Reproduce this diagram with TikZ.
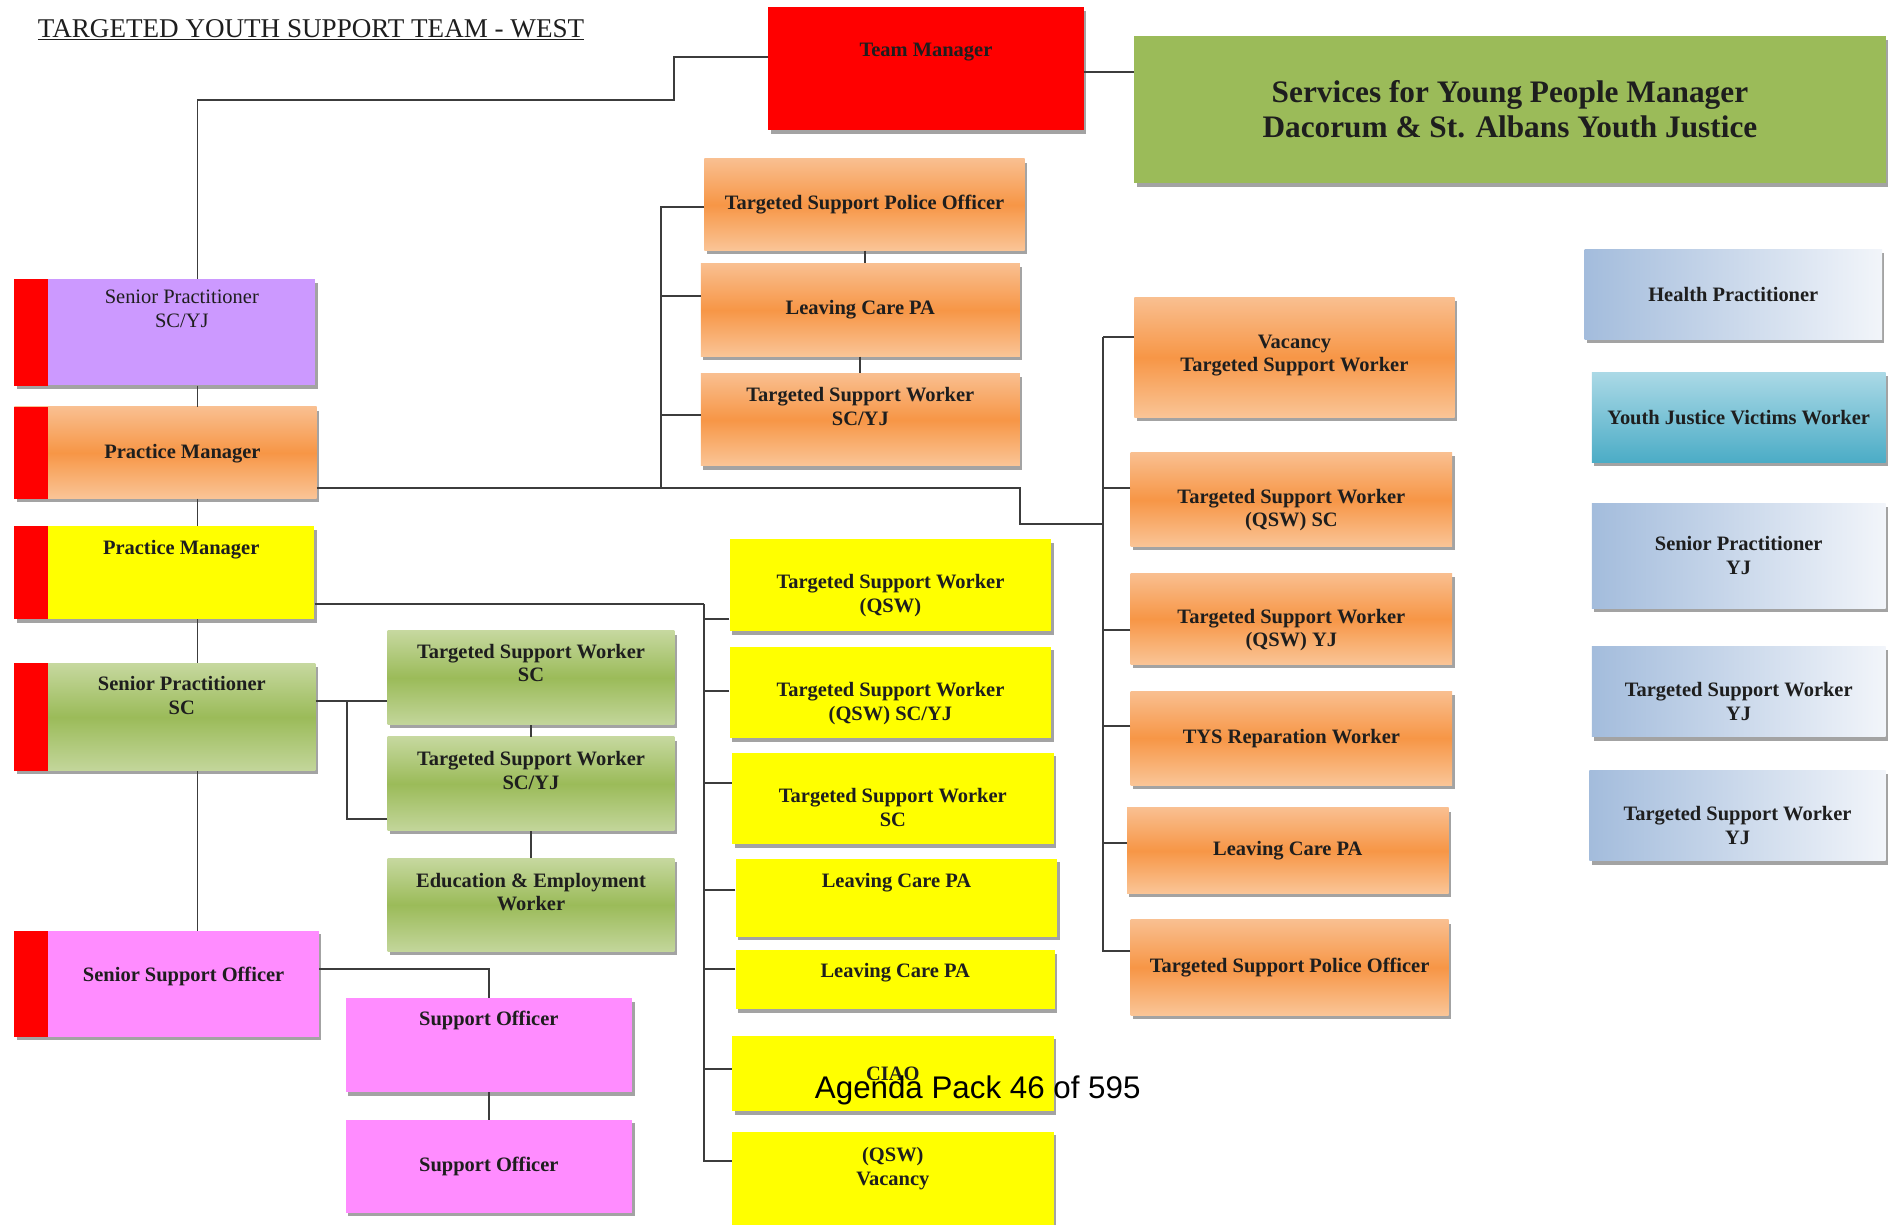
\documentclass[tikz,border=0pt]{standalone}
\usepackage{fontspec}
\setmainfont{Liberation Serif}
\newfontfamily\agendafont{Liberation Sans}
\usetikzlibrary{shadows}

\definecolor{ink}{HTML}{1E1E1E}
\definecolor{linegray}{HTML}{3C3C3C}
\definecolor{shadowgray}{HTML}{8C8C8C}
\definecolor{orangetop}{HTML}{F9BF90}
\definecolor{orangemid}{HTML}{F79646}
\definecolor{orangebot}{HTML}{FAC597}
\definecolor{greentop}{HTML}{C6D89F}
\definecolor{greenmid}{HTML}{9BBB59}
\definecolor{greenbot}{HTML}{C3D69B}
\definecolor{headgreen}{HTML}{9BBB59}
\definecolor{bluedark}{HTML}{A3BCDC}
\definecolor{bluelight}{HTML}{F2F5FA}
\definecolor{tealtop}{HTML}{ABD9E6}
\definecolor{tealbot}{HTML}{4BACC6}
\definecolor{lilac}{HTML}{CC99FF}
\definecolor{pinkfill}{HTML}{FF8CFF}
\definecolor{yellowfill}{HTML}{FFFF00}

\begin{document}
\begin{tikzpicture}[
  x=1pt, y=-1pt,
  box/.style={minimum width=266pt, minimum height=76pt, inner sep=0pt, align=center,
    font=\bfseries\fontsize{17}{19.5}\selectfont, text=ink,
    drop shadow={shadow xshift=2pt, shadow yshift=-3pt, fill=shadowgray, opacity=0.8}},
  orangebox/.style={box, top color=orangetop, bottom color=orangebot, middle color=orangemid},
  greenbox/.style={box, top color=greentop, bottom color=greenbot, middle color=greenmid},
  yellowbox/.style={box, fill=yellowfill},
  pinkbox/.style={box, fill=pinkfill},
  bluebox/.style={box, left color=bluedark, right color=bluelight},
  lbl/.style={anchor=north, inner sep=0pt, align=center, text=ink, yshift=-3,
    font=\bfseries\fontsize{17}{19.5}\selectfont},
  toptext/.style 2 args={label={[lbl, yshift=-#1]north:{#2}}},
  lefttext/.style 2 args={label={[lbl, xshift=14, yshift=-#1]north:{#2}}},
  conn/.style={draw=linegray, line width=1.6pt}
]
  \useasboundingbox (0,0) rectangle (1568,1017);
  \fill[white] (0,0) rectangle (1568,1017);

  % Title
  \node[anchor=base west, font=\fontsize{22.5}{26}\selectfont, text=ink] (title) at (28,31)
    {\underline{TARGETED YOUTH SUPPORT TEAM - WEST}};

  % Team manager and service manager
  \node[box, fill=red, minimum width=262pt, minimum height=102pt, toptext={27}{Team Manager}] (tm) at (769,57) {};
  \node[box, fill=headgreen, minimum width=624pt, minimum height=122pt,
    font=\bfseries\fontsize{26}{29}\selectfont] (svc) at (1254,91)
    {Services for Young People Manager\\Dacorum \& St. Albans Youth Justice};

  % Left column (red marker on the left)
  \node[box, fill=lilac, minimum width=250pt, minimum height=88pt,
    label={[lbl, font=\fontsize{17}{19.5}\selectfont, xshift=14, yshift=-6]north:{Senior Practitioner\\SC/YJ}}] (sp1) at (137,276) {};
  \node[orangebox, minimum width=251pt, lefttext={28}{Practice Manager}] (pm1) at (137.5,376) {};
  \node[yellowbox, minimum width=249pt, minimum height=77pt, lefttext={9}{Practice Manager}] (pm2) at (136.5,475.5) {};
  \node[greenbox, minimum width=250pt, minimum height=89pt, lefttext={8}{Senior Practitioner\\SC}] (sp2) at (137,595.5) {};
  \node[pinkbox, minimum width=253pt, minimum height=88pt, lefttext={27}{Senior Support Officer}] (sso) at (138.5,817) {};
  \foreach \n in {sp1, pm1, pm2, sp2, sso}
    \fill[red] (\n.north west) rectangle ([xshift=28]\n.south west);

  % Orange column under the team manager
  \node[orangebox] (tspo1) at (718,170) {Targeted Support Police Officer};
  \node[orangebox, minimum width=265pt, minimum height=77pt] (lcpa1) at (714.5,257.5) {Leaving Care PA};
  \node[orangebox, minimum width=265pt, minimum height=77pt,
    toptext={9}{Targeted Support Worker\\SC/YJ}] (tsw1) at (714.5,348.5) {};

  % Orange column on the right
  \node[orangebox, minimum height=100pt, toptext={28}{Vacancy\\Targeted Support Worker}] (vac1) at (1075,297) {};
  \node[orangebox, minimum width=267pt, minimum height=78pt,
    toptext={27}{Targeted Support Worker\\(QSW) SC}] (qsw1) at (1072.5,415) {};
  \node[orangebox, minimum width=267pt, toptext={27}{Targeted Support Worker\\(QSW) YJ}] (qsw2) at (1072.5,514) {};
  \node[orangebox, minimum width=267pt, minimum height=78pt] (tys) at (1072.5,613) {TYS Reparation Worker};
  \node[orangebox, minimum width=267pt, minimum height=71pt] (lcpa2) at (1069.5,706.5) {Leaving Care PA};
  \node[orangebox, minimum width=264pt, minimum height=79pt] (tspo2) at (1071,803.5) {Targeted Support Police Officer};

  % Yellow column
  \node[yellowbox, minimum width=267pt, toptext={26}{Targeted Support Worker\\(QSW)}] (ye1) at (739.5,486) {};
  \node[yellowbox, minimum width=267pt, toptext={27}{Targeted Support Worker\\(QSW) SC/YJ}] (ye2) at (739.5,575) {};
  \node[yellowbox, minimum width=267pt, toptext={27}{Targeted Support Worker\\SC}] (ye3) at (741.5,663) {};
  \node[yellowbox, minimum width=267pt, minimum height=65pt, toptext={9}{Leaving Care PA}] (ye4) at (744.5,745.5) {};
  \node[yellowbox, minimum width=265pt, minimum height=49pt, toptext={8}{Leaving Care PA}] (ye5) at (743.5,813.5) {};
  \node[yellowbox, minimum width=267pt, minimum height=63pt] (ye6) at (741.5,891.5) {CIAO};
  \node[yellowbox, minimum width=267pt, minimum height=82pt, toptext={10}{(QSW)\\Vacancy}] (ye7) at (741.5,981) {};

  % Green column
  \node[greenbox, minimum width=238pt, minimum height=78pt, toptext={8}{Targeted Support Worker\\SC}] (gr1) at (441,563) {};
  \node[greenbox, minimum width=238pt, minimum height=78pt, toptext={9}{Targeted Support Worker\\SC/YJ}] (gr2) at (441,651) {};
  \node[greenbox, minimum width=238pt, minimum height=77pt, toptext={9}{Education \& Employment\\Worker}] (gr3) at (441,751.5) {};

  % Pink column
  \node[pinkbox, minimum width=238pt, minimum height=78pt, toptext={8}{Support Officer}] (so1) at (406,868) {};
  \node[pinkbox, minimum width=238pt, minimum height=77pt] (so2) at (406,968.5) {Support Officer};

  % Blue column (not linked)
  \node[bluebox, minimum width=247pt, minimum height=75pt] (hp) at (1439.5,244.5) {Health Practitioner};
  \node[box, top color=tealtop, bottom color=tealbot, minimum width=244pt, minimum height=75pt] (yjvw) at (1444,346.5) {Youth Justice Victims Worker};
  \node[bluebox, minimum width=244pt, minimum height=87pt] (spyj) at (1444,461.5) {Senior Practitioner\\YJ};
  \node[bluebox, minimum width=244pt, minimum height=75pt, toptext={27}{Targeted Support Worker\\YJ}] (tswyj1) at (1444,574.5) {};
  \node[bluebox, minimum width=246pt, minimum height=75pt, toptext={27}{Targeted Support Worker\\YJ}] (tswyj2) at (1443,677.5) {};

  % Bends and spines
  \coordinate (lx) at (164,0);
  \coordinate (tmbend) at (560,83);
  \coordinate (ls) at (549,405);
  \coordinate (jog) at (847,435);
  \coordinate (rs) at (916,280);
  \coordinate (ys) at (585,502);
  \coordinate (gs) at (288,582);

  % Team manager links
  \draw[conn] ([yshift=10]tm.west) -| (tmbend) -| (sp1.north -| lx);
  \draw[conn] ([yshift=-3]tm.east) -- ([yshift=-3]tm.east -| svc.west);

  % Left chain
  \foreach \a/\b in {sp1/pm1, pm1/pm2, pm2/sp2, sp2/sso}
    \draw[conn] (\a.south -| lx) -- (\b.north -| lx);

  % Orange links
  \draw[conn] ([yshift=-29]pm1.east) -| (jog) -- (jog -| rs);
  \foreach \n/\d in {tspo1/-2, lcpa1/11.5, tsw1/3.5}
    \draw[conn] ([yshift=\d]\n.west) -| (ls);
  \draw[conn] (tspo1.south) -- (tspo1.south |- lcpa1.north);
  \draw[conn] (lcpa1.south) -- (lcpa1.south |- tsw1.north);
  \foreach \n/\d in {vac1/17, qsw1/10, qsw2/-9, tys/10, lcpa2/6.5, tspo2/13.5}
    \draw[conn] ([yshift=\d]\n.west) -| (rs);

  % Yellow links
  \draw[conn] ([yshift=-26.5]pm2.east) -- (ys);
  \foreach \n/\d in {ye1/-28, ye2/1, ye3/13, ye4/6.5, ye5/8.5, ye6/3.5, ye7/17}
    \draw[conn] ([yshift=\d]\n.west) -| (ys);

  % Green links
  \draw[conn] ([yshift=13.5]sp2.east) -- ([yshift=-19]gr1.west);
  \draw[conn] ([yshift=-29]gr2.west) -| (gs);
  \draw[conn] (gr1.south) -- (gr2.north);
  \draw[conn] (gr2.south) -- (gr3.north);

  % Pink links
  \draw[conn] ([yshift=12]sso.east) -| (so1.north);
  \draw[conn] (so1.south) -- (so2.north);

  % Page stamp
  \node[anchor=base, font=\agendafont\fontsize{26}{30}\selectfont, text=black] (agenda) at (812,912) {Agenda Pack 46 of 595};
\end{tikzpicture}
\end{document}
